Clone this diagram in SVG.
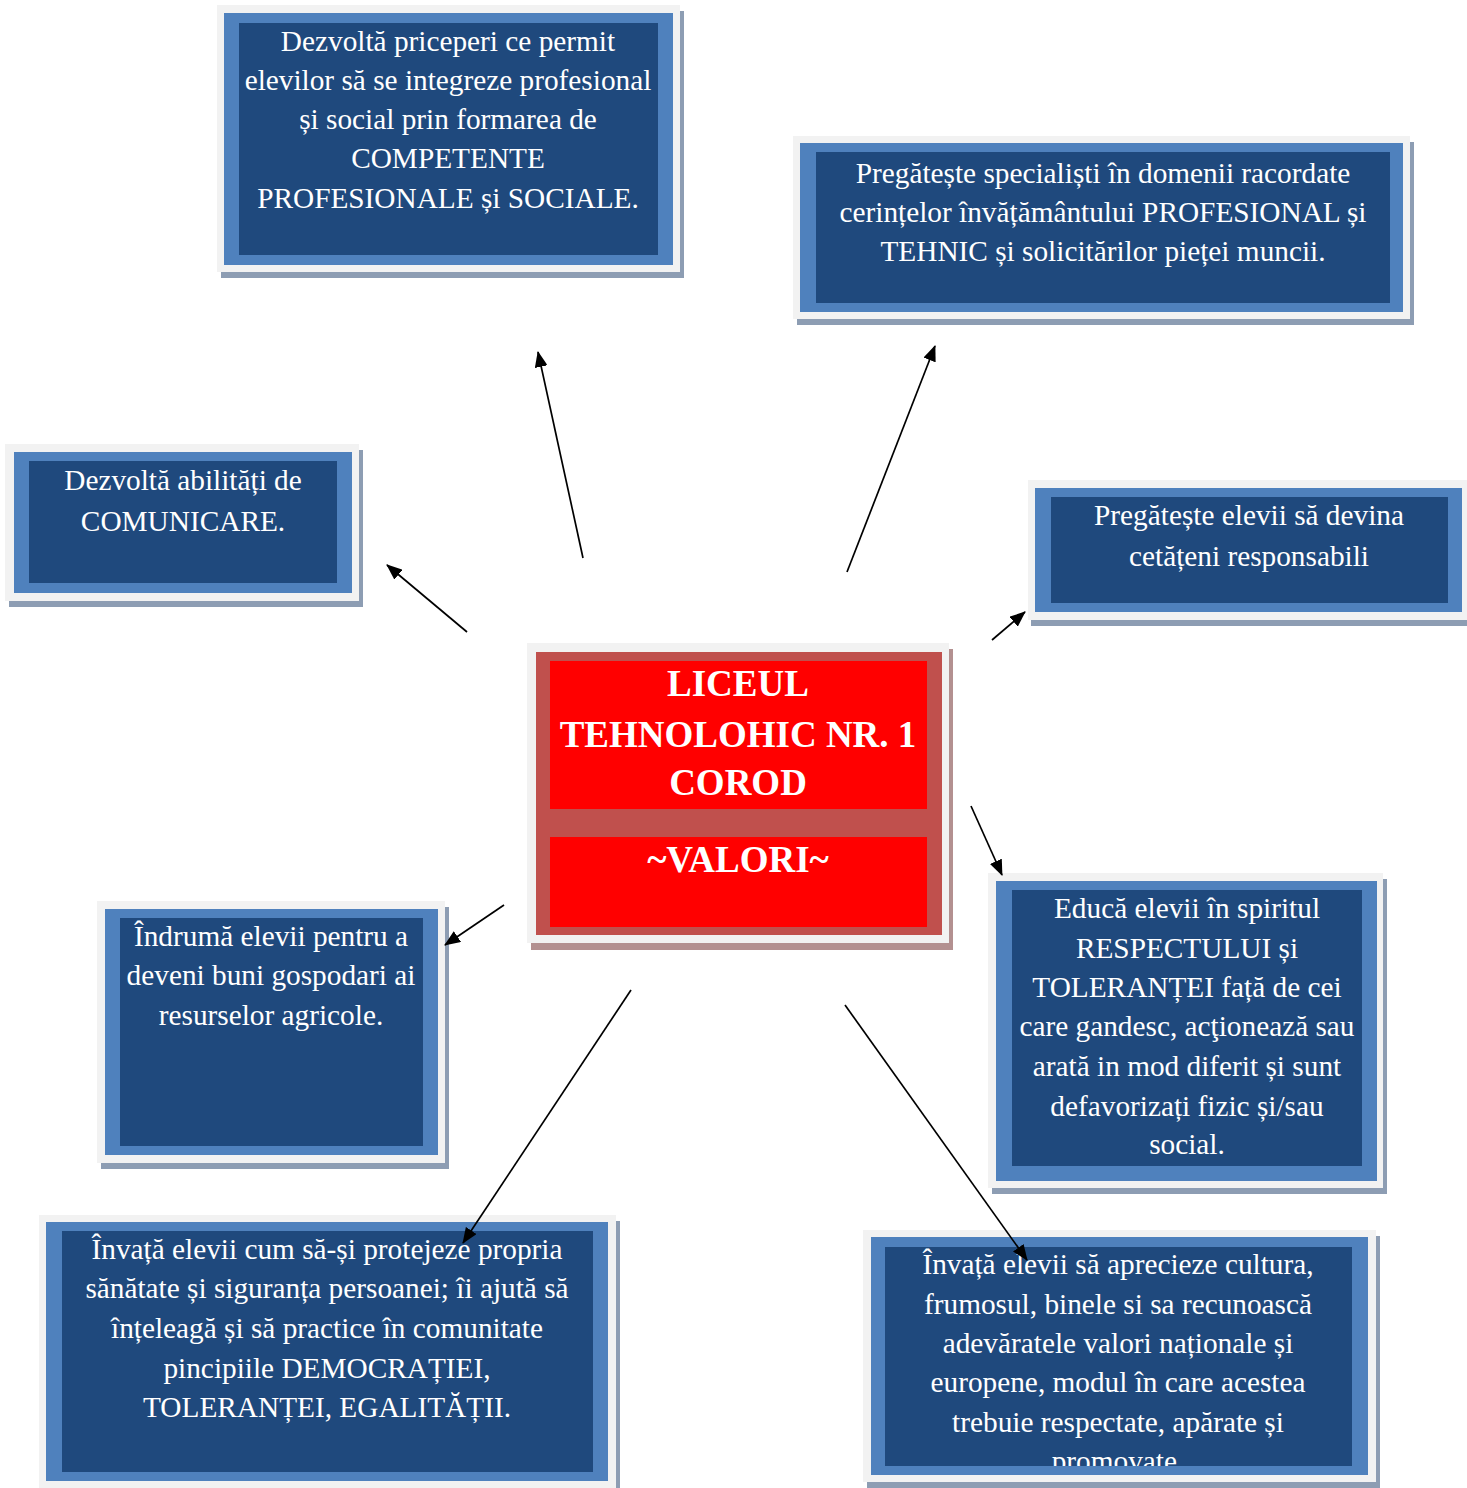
<svg xmlns="http://www.w3.org/2000/svg" width="1467" height="1488" viewBox="0 0 1467 1488">
<style>
.bg{fill:#ffffff}
.sh{fill:#8d9db3}
.shr{fill:#b39090}
.gr{fill:#f2f2f2}
.mb{fill:#4f81bd}
.db{fill:#1f497d}
.rb{fill:#c0504d}
.rd{fill:#ff0000}
.t{font-family:"Liberation Serif","Times New Roman",serif;font-size:29.3px;fill:#ffffff;text-anchor:middle}
.tb{font-family:"Liberation Serif","Times New Roman",serif;font-size:37px;font-weight:bold;fill:#ffffff;text-anchor:middle}
.c{stroke:#000000;stroke-width:1.7;fill:none;marker-end:url(#ah)}
</style>
<defs>
<marker id="ah" viewBox="0 0 16 13" refX="15" refY="6.5" markerWidth="16" markerHeight="13" markerUnits="userSpaceOnUse" orient="auto">
<path d="M0,0 L16,6.5 L0,13 z" fill="#000000"/>
</marker>
<clipPath id="clip8"><rect x="885" y="1247" width="467" height="219"/></clipPath>
</defs>
<rect class="bg" x="0" y="0" width="1467" height="1488"/>

<g id="node-competente">
<rect class="sh" x="221" y="11" width="463" height="267"/>
<rect class="gr" x="217" y="5" width="463" height="267"/>
<rect class="mb" x="224" y="13" width="449" height="252"/>
<rect class="db" x="239" y="23" width="419" height="232"/>
<text class="t" x="448" y="51">Dezvoltă priceperi ce permit</text>
<text class="t" x="448" y="90">elevilor să se integreze profesional</text>
<text class="t" x="448" y="129">și social prin formarea de</text>
<text class="t" x="448" y="168">COMPETENTE</text>
<text class="t" x="448" y="208">PROFESIONALE și SOCIALE.</text>
</g>

<g id="node-specialisti">
<rect class="sh" x="797" y="142" width="617" height="183"/>
<rect class="gr" x="793" y="136" width="617" height="183"/>
<rect class="mb" x="800" y="143" width="603" height="169"/>
<rect class="db" x="816" y="152" width="574" height="151"/>
<text class="t" x="1103" y="183">Pregătește specialiști în domenii racordate</text>
<text class="t" x="1103" y="222">cerințelor învățământului PROFESIONAL și</text>
<text class="t" x="1103" y="261">TEHNIC și solicitărilor pieței muncii.</text>
</g>

<g id="node-comunicare">
<rect class="sh" x="9" y="450" width="354" height="157"/>
<rect class="gr" x="5" y="444" width="354" height="157"/>
<rect class="mb" x="14" y="452" width="338" height="141"/>
<rect class="db" x="29" y="461" width="308" height="122"/>
<text class="t" x="183" y="490">Dezvoltă abilități de</text>
<text class="t" x="183" y="531">COMUNICARE.</text>
</g>

<g id="node-cetateni">
<rect class="sh" x="1031" y="486" width="440" height="140"/>
<rect class="gr" x="1028" y="480" width="440" height="140"/>
<rect class="mb" x="1035" y="488" width="427" height="124"/>
<rect class="db" x="1051" y="497" width="397" height="106"/>
<text class="t" x="1249" y="525">Pregătește elevii să devina</text>
<text class="t" x="1249" y="566">cetățeni responsabili</text>
</g>

<g id="node-center">
<rect class="shr" x="531" y="649" width="422" height="301"/>
<rect class="gr" x="527" y="643" width="422" height="300"/>
<rect class="rb" x="536" y="652" width="406" height="283"/>
<rect class="rd" x="550" y="661" width="377" height="148"/>
<rect class="rd" x="550" y="837" width="377" height="90"/>
<text class="tb" x="738" y="696">LICEUL</text>
<text class="tb" x="738" y="747">TEHNOLOHIC NR. 1</text>
<text class="tb" x="738" y="795">COROD</text>
<text class="tb" x="738" y="872">~VALORI~</text>
</g>

<g id="node-respect">
<rect class="sh" x="992" y="879" width="395" height="315"/>
<rect class="gr" x="988" y="873" width="395" height="315"/>
<rect class="mb" x="996" y="881" width="381" height="300"/>
<rect class="db" x="1012" y="890" width="350" height="276"/>
<text class="t" x="1187" y="918">Educă elevii în spiritul</text>
<text class="t" x="1187" y="958">RESPECTULUI și</text>
<text class="t" x="1187" y="997">TOLERANȚEI față de cei</text>
<text class="t" x="1187" y="1036">care gandesc, acţionează sau</text>
<text class="t" x="1187" y="1076">arată in mod diferit și sunt</text>
<text class="t" x="1187" y="1116">defavorizați fizic și/sau</text>
<text class="t" x="1187" y="1154">social.</text>
</g>

<g id="node-gospodari">
<rect class="sh" x="101" y="907" width="348" height="262"/>
<rect class="gr" x="97" y="901" width="348" height="262"/>
<rect class="mb" x="105" y="909" width="333" height="246"/>
<rect class="db" x="120" y="918" width="303" height="228"/>
<text class="t" x="271" y="946">Îndrumă elevii pentru a</text>
<text class="t" x="271" y="985">deveni buni gospodari ai</text>
<text class="t" x="271" y="1025">resurselor agricole.</text>
</g>

<g id="node-sanatate">
<rect class="sh" x="43" y="1221" width="577" height="280"/>
<rect class="gr" x="39" y="1215" width="577" height="280"/>
<rect class="mb" x="46" y="1222" width="562" height="259"/>
<rect class="db" x="62" y="1231" width="531" height="241"/>
<text class="t" x="327" y="1259">Învață elevii cum să-și protejeze propria</text>
<text class="t" x="327" y="1298">sănătate și siguranța persoanei; îi ajută să</text>
<text class="t" x="327" y="1338">înțeleagă și să practice în comunitate</text>
<text class="t" x="327" y="1378">pincipiile DEMOCRAȚIEI,</text>
<text class="t" x="327" y="1417">TOLERANȚEI, EGALITĂȚII.</text>
</g>

<g id="node-cultura">
<rect class="sh" x="867" y="1236" width="513" height="252"/>
<rect class="gr" x="863" y="1230" width="513" height="252"/>
<rect class="mb" x="871" y="1237" width="497" height="238"/>
<rect class="db" x="885" y="1247" width="467" height="219"/>
<g clip-path="url(#clip8)">
<text class="t" x="1118" y="1274">Învață elevii să aprecieze cultura,</text>
<text class="t" x="1118" y="1314">frumosul, binele si sa recunoască</text>
<text class="t" x="1118" y="1353">adevăratele valori naționale și</text>
<text class="t" x="1118" y="1392">europene, modul în care acestea</text>
<text class="t" x="1118" y="1432">trebuie respectate, apărate și</text>
<text class="t" x="1118" y="1471">promovate.</text>
</g>
</g>

<g id="connectors">
<line class="c" x1="583" y1="558" x2="538" y2="352"/>
<line class="c" x1="847" y1="572" x2="935" y2="346"/>
<line class="c" x1="467" y1="632" x2="387" y2="565"/>
<line class="c" x1="992" y1="640" x2="1025" y2="612"/>
<line class="c" x1="971" y1="806" x2="1002" y2="875"/>
<line class="c" x1="504" y1="905" x2="445" y2="945"/>
<line class="c" x1="631" y1="990" x2="463" y2="1243"/>
<line class="c" x1="845" y1="1005" x2="1027" y2="1260"/>
</g>
</svg>
